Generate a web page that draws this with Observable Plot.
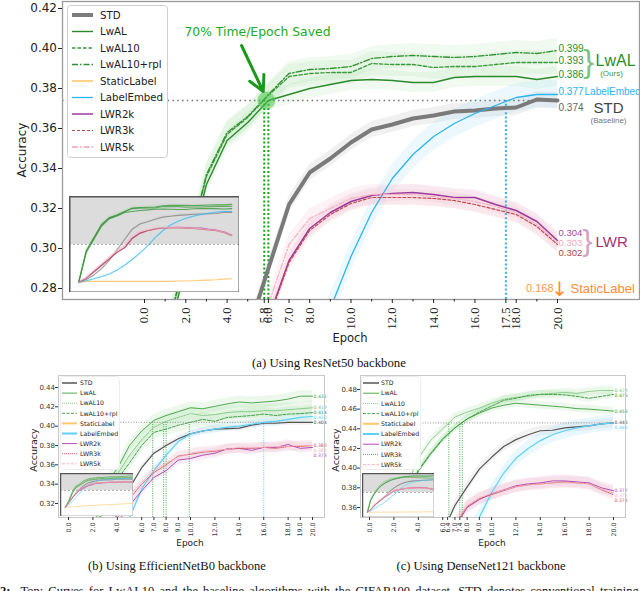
<!DOCTYPE html>
<html><head><meta charset="utf-8">
<script src="https://cdn.jsdelivr.net/npm/d3@7"></script>
<script src="https://cdn.jsdelivr.net/npm/@observablehq/plot@0.6"></script>
<style>
html,body{margin:0;padding:0;background:#fff;}
#fig{position:relative;width:640px;height:591px;overflow:hidden;background:#fff;font-family:"DejaVu Sans",sans-serif;color:#222;}
.abs{position:absolute;}
.lbl{position:absolute;transform:translate(-50%,-50%);white-space:nowrap;font-family:"DejaVu Sans",sans-serif;color:#222;}
.rot{transform:translate(-50%,-50%) rotate(-90deg);}
.cap{position:absolute;transform:translate(-50%,-50%);white-space:nowrap;font-family:"Liberation Serif","Times New Roman",serif;font-size:12.8px;color:#111;}
</style></head><body><div id="fig"></div>
<script>
const epochs = d3.range(0, 21);
const names = ["STD","LwAL","LwAL10","LwAL10+rpl","StaticLabel","LabelEmbed","LWR2k","LWR3k","LWR5k"];

// ---------- (a) ResNet50 ----------
const a_STD        = [0.157,0.166,0.180,0.200,0.225,0.258,0.290,0.322,0.338,0.345,0.353,0.3595,0.362,0.365,0.3665,0.3685,0.369,0.370,0.3705,0.3745,0.374];
const a_LwAL       = [0.157,0.250,0.291,0.332,0.354,0.363,0.374,0.377,0.380,0.382,0.384,0.3845,0.384,0.383,0.383,0.3855,0.386,0.386,0.386,0.3845,0.386];
const a_LwAL10     = [0.157,0.255,0.295,0.336,0.357,0.3655,0.3765,0.386,0.3875,0.388,0.388,0.3925,0.392,0.392,0.3905,0.391,0.391,0.392,0.393,0.393,0.393];
const a_LwAL10rpl  = [0.157,0.256,0.296,0.337,0.358,0.366,0.377,0.3875,0.3895,0.390,0.391,0.395,0.396,0.3965,0.396,0.3955,0.396,0.397,0.398,0.3975,0.399];
const a_Static     = [0.157,0.160,0.160,0.160,0.160,0.160,0.160,0.160,0.160,0.160,0.160,0.160,0.160,0.161,0.161,0.162,0.163,0.164,0.165,0.167,0.168];
const a_LabelEmbed = [0.157,0.162,0.168,0.175,0.183,0.195,0.210,0.228,0.248,0.270,0.296,0.318,0.335,0.347,0.356,0.3625,0.3675,0.3715,0.3755,0.377,0.377];
const a_LWR2k      = [0.157,0.170,0.190,0.210,0.230,0.250,0.265,0.294,0.310,0.318,0.3235,0.3265,0.3275,0.328,0.327,0.3255,0.3255,0.322,0.319,0.3135,0.304];
const a_LWR3k      = [0.157,0.170,0.190,0.210,0.230,0.250,0.264,0.293,0.309,0.317,0.3225,0.3255,0.3255,0.3255,0.325,0.324,0.322,0.3195,0.317,0.311,0.302];
const a_LWR5k      = [0.157,0.172,0.195,0.215,0.235,0.255,0.272,0.302,0.315,0.320,0.325,0.327,0.327,0.327,0.326,0.325,0.3235,0.321,0.318,0.312,0.303];
const a_spread     = [0.004,0.005,0.006,0.006,0.002,0.007,0.004,0.004,0.005];
const a_xticks = [0,2,4,5.8,6,7,8,10,12,14,16,17.5,18,20];
const a_xminor = [1,3,5,9,11,13,15,19];
const a_yticks = [0.28,0.30,0.32,0.34,0.36,0.38,0.40,0.42];
const a_target = 0.374;
const a_hits = [5.8, 6.0];
const a_blueHits = [17.5];
const a_arrow = [{x1: 4.7, y1: 0.4015, x2: 5.75, y2: 0.3785}];
const a_note = [{x: 5.47, y: 0.408, text: "70% Time/Epoch Saved"}];

// ---------- (b) EfficientNetB0 ----------
const b_STD        = [0.160,0.200,0.240,0.280,0.310,0.336,0.357,0.372,0.380,0.387,0.392,0.395,0.397,0.3975,0.398,0.401,0.403,0.403,0.404,0.404,0.404];
const b_LwAL       = [0.160,0.220,0.290,0.340,0.356,0.380,0.395,0.406,0.411,0.415,0.419,0.418,0.4205,0.423,0.425,0.424,0.425,0.426,0.428,0.431,0.431];
const b_LwAL10     = [0.160,0.210,0.280,0.330,0.350,0.370,0.386,0.399,0.405,0.409,0.413,0.411,0.412,0.414,0.415,0.415,0.416,0.416,0.417,0.418,0.419];
const b_LwAL10rpl  = [0.160,0.205,0.275,0.325,0.345,0.362,0.380,0.3935,0.397,0.401,0.404,0.407,0.405,0.409,0.410,0.411,0.4125,0.411,0.4125,0.413,0.414];
const b_Static     = [0.160,0.162,0.164,0.166,0.168,0.170,0.172,0.174,0.175,0.177,0.178,0.180,0.181,0.183,0.184,0.185,0.187,0.188,0.190,0.192,0.195];
const b_LabelEmbed = [0.160,0.180,0.210,0.240,0.270,0.305,0.335,0.354,0.370,0.384,0.392,0.395,0.397,0.399,0.400,0.402,0.404,0.405,0.407,0.409,0.410];
const b_LWR2k      = [0.160,0.200,0.240,0.270,0.300,0.318,0.333,0.347,0.354,0.365,0.3665,0.370,0.372,0.3765,0.377,0.375,0.378,0.378,0.381,0.377,0.378];
const b_LWR3k      = [0.160,0.200,0.240,0.275,0.305,0.325,0.340,0.352,0.360,0.369,0.371,0.373,0.374,0.376,0.377,0.377,0.378,0.377,0.379,0.379,0.380];
const b_LWR5k      = [0.160,0.200,0.245,0.280,0.310,0.328,0.342,0.354,0.362,0.368,0.372,0.374,0.375,0.376,0.378,0.378,0.378,0.379,0.379,0.380,0.380];
const b_spread     = [0.003,0.006,0.007,0.007,0.002,0.004,0.005,0.005,0.005];
const b_xticks = [0,2,4,6,7,8,9,10,12,14,16,18,19,20];
const b_yticks = [0.32,0.34,0.36,0.38,0.40,0.42,0.44];
const b_target = 0.404;
const b_hits = [6.9, 7.8, 8.0, 9.9];
const b_blueHits = [16.0];

// ---------- (c) DenseNet121 ----------
const c_STD        = [0.200,0.220,0.250,0.270,0.290,0.310,0.335,0.362,0.381,0.399,0.411,0.422,0.429,0.434,0.438,0.4385,0.441,0.442,0.443,0.445,0.446];
const c_LwAL       = [0.200,0.290,0.335,0.370,0.398,0.415,0.430,0.441,0.450,0.456,0.461,0.464,0.466,0.465,0.464,0.463,0.462,0.4605,0.460,0.459,0.458];
const c_LwAL10     = [0.200,0.300,0.345,0.380,0.410,0.428,0.440,0.452,0.457,0.461,0.466,0.470,0.472,0.473,0.475,0.476,0.477,0.476,0.478,0.479,0.479];
const c_LwAL10rpl  = [0.200,0.290,0.333,0.368,0.397,0.414,0.429,0.441,0.450,0.457,0.463,0.469,0.471,0.474,0.475,0.475,0.4745,0.473,0.471,0.473,0.475];
const c_Static     = [0.200,0.200,0.200,0.200,0.200,0.200,0.200,0.201,0.201,0.201,0.201,0.201,0.202,0.202,0.202,0.202,0.202,0.203,0.203,0.203,0.203];
const c_LabelEmbed = [0.200,0.210,0.225,0.240,0.255,0.270,0.290,0.310,0.330,0.350,0.375,0.395,0.410,0.420,0.428,0.434,0.438,0.441,0.443,0.445,0.446];
const c_LWR2k      = [0.200,0.220,0.245,0.270,0.290,0.310,0.325,0.340,0.360,0.368,0.374,0.378,0.382,0.384,0.385,0.387,0.387,0.386,0.385,0.380,0.377];
const c_LWR3k      = [0.200,0.220,0.245,0.270,0.290,0.310,0.327,0.342,0.361,0.369,0.373,0.377,0.381,0.383,0.384,0.385,0.386,0.385,0.384,0.378,0.373];
const c_LWR5k      = [0.200,0.220,0.250,0.275,0.295,0.315,0.330,0.345,0.362,0.370,0.374,0.378,0.381,0.383,0.384,0.385,0.385,0.385,0.384,0.379,0.375];
const c_spread     = [0.005,0.004,0.004,0.004,0.002,0.008,0.006,0.006,0.006];
const c_xticks = [0,2,4,6,6.4,7,7.4,8,9,10,12,14,16,18,20];
const c_yticks = [0.36,0.38,0.40,0.42,0.44,0.46,0.48];
const c_target = 0.446;
const c_hits = [6.5, 7.4, 7.6];
const c_blueHits = [];

// ---------- styles ----------
const styleA = {
  "STD":         {stroke:"#7a7a7a", w:4,   band:"#a0a0a0", bo:0.16, lw:4},
  "LwAL":        {stroke:"#2b8a2b", w:1.4, band:"#7ccf7c", bo:0.11},
  "LwAL10":      {stroke:"#3a993a", w:1.3, dash:"3.5,2", band:"#7ccf7c", bo:0.11},
  "LwAL10+rpl":  {stroke:"#2f902f", w:1.3, dash:"6,2,1.5,2", band:"#7ccf7c", bo:0.11},
  "StaticLabel": {stroke:"#ffb84d", w:1.3, band:"#ffd699", bo:0.2},
  "LabelEmbed":  {stroke:"#2ab4f0", w:1.3, band:"#9fdcf7", bo:0.2},
  "LWR2k":       {stroke:"#9c3a9c", w:1.5, band:"#e6b3d9", bo:0.2},
  "LWR3k":       {stroke:"#c0474f", w:1.2, dash:"3,2", band:"#f2b8c0", bo:0.2},
  "LWR5k":       {stroke:"#f4b6c4", w:1.3, dash:"6,2,1.5,2", band:"#f8d0da", bo:0.25, lw:2}
};
const styleS = {
  "STD":         {stroke:"#555555", w:1.2, band:"#a8a8a8", bo:0.15, lw:1.5},
  "LwAL":        {stroke:"#3f9f3f", w:0.9, band:"#8fd68f", bo:0.18},
  "LwAL10":      {stroke:"#79c279", w:0.9, dash:"1,1", band:"#8fd68f", bo:0.18},
  "LwAL10+rpl":  {stroke:"#3a943a", w:0.9, dash:"3,1.5", band:"#8fd68f", bo:0.18},
  "StaticLabel": {stroke:"#ffc870", w:1.2, band:"#ffe0b0", bo:0.2, lw:2},
  "LabelEmbed":  {stroke:"#5fd0f8", w:1.2, band:"#a8e4fa", bo:0.25, lw:2},
  "LWR2k":       {stroke:"#b44db4", w:1.0, band:"#e8b8e0", bo:0.25},
  "LWR3k":       {stroke:"#d0505a", w:0.9, dash:"1,1", band:"#f2c0c8", bo:0.22},
  "LWR5k":       {stroke:"#f5b0c0", w:0.9, dash:"3,1.5", band:"#f8d0da", bo:0.22}
};

// ---------- helpers ----------
const fig = document.getElementById("fig");
function place(el, left, top) { el.style.position = "absolute"; el.style.left = left + "px"; el.style.top = top + "px"; fig.appendChild(el); return el; }
function buildRows(arrays, spread) {
  return names.flatMap((name, k) => arrays[k].map((v, i) => ({name, epoch: epochs[i], v, lo: v - spread[k], hi: v + spread[k]})));
}
function seriesMarks(rows, styles, opt = {}) {
  const bands = [], lines = [];
  for (const name of names) {
    const s = styles[name];
    const d = rows.filter(r => r.name === name);
    bands.push(Plot.areaY(d, {x: "epoch", y1: "lo", y2: "hi", fill: s.band, fillOpacity: s.bo * (opt.bandScale || 1), clip: true}));
    const w = opt.wCap ? Math.min(s.w, opt.wCap) : s.w;
    lines.push(Plot.line(d, {x: "epoch", y: "v", stroke: s.stroke, strokeWidth: w, strokeDasharray: opt.noDash ? null : s.dash, strokeOpacity: opt.op || 1, clip: true}));
  }
  return {bands, lines};
}
function inset(rows, styles, cfg) {
  const m = seriesMarks(rows, styles, {wCap: cfg.wCap, op: 0.7, bandScale: 0.6, noDash: true});
  const svg = Plot.plot({
    width: cfg.w, height: cfg.h, margin: 0,
    x: {domain: cfg.X, axis: null}, y: {domain: cfg.Y, axis: null},
    style: {background: "#fff", overflow: "hidden"},
    marks: [
      Plot.rect([0], {x1: () => cfg.X[0], x2: () => cfg.X[1], y1: () => cfg.shade, y2: () => cfg.Y[1], fill: "#dcdcdc"}),
      Plot.ruleY([cfg.shade], {stroke: "#999", strokeWidth: 0.8, strokeDasharray: "2,2"}),
      ...m.bands, ...m.lines,
      Plot.frame({stroke: "#555", strokeWidth: cfg.fw})
    ]
  });
  place(svg, cfg.left, cfg.top);
}
function legend(cfg, styles) {
  const svg = d3.create("svg").attr("width", cfg.w).attr("height", cfg.h);
  svg.append("rect").attr("x", 0.5).attr("y", 0.5).attr("width", cfg.w - 1).attr("height", cfg.h - 1).attr("rx", 3)
     .attr("fill", "rgba(255,255,255,0.85)").attr("stroke", cfg.border);
  names.forEach((n, i) => {
    const s = styles[n], y = cfg.y0 + i * cfg.dy;
    svg.append("line").attr("x1", cfg.lx1).attr("x2", cfg.lx2).attr("y1", y).attr("y2", y)
       .attr("stroke", s.stroke).attr("stroke-width", (s.lw || s.w) * cfg.ws).attr("stroke-dasharray", s.dash || null);
    svg.append("text").attr("x", cfg.tx).attr("y", y).attr("dy", "0.36em").attr("font-size", cfg.fs)
       .attr("font-family", "DejaVu Sans").attr("fill", "#222").text(n);
  });
  place(svg.node(), cfg.left, cfg.top);
}
function html(cls, text, x, y, css = "") {
  const d = document.createElement("div");
  d.className = cls; d.innerHTML = text;
  d.style.cssText = `left:${x}px;top:${y}px;` + css;
  fig.appendChild(d);
}
const f3 = d3.format(".3f");
const LS = "Liberation Sans";

// ---------- panel (a) ----------
const A_X = [-3.97, 23.97], A_Y = [0.2745, 0.4235];
const rowsA = buildRows([a_STD,a_LwAL,a_LwAL10,a_LwAL10rpl,a_Static,a_LabelEmbed,a_LWR2k,a_LWR3k,a_LWR5k], a_spread);
const mA = seriesMarks(rowsA, styleA);
const last = arr => arr[arr.length - 1];
const greenCol = "#2a8f2a";
const lwalMid = d3.mean([last(a_LwAL), last(a_LwAL10rpl)]);
const lwrMid = d3.mean([last(a_LWR2k), last(a_LWR3k), last(a_LWR5k)]);
const plotA = Plot.plot({
  width: 640, height: 345, marginLeft: 62, marginRight: 1, marginTop: 1, marginBottom: 46,
  x: {domain: A_X}, y: {domain: A_Y},
  style: {fontFamily: "DejaVu Sans", background: "transparent", overflow: "visible", color: "#222"},
  marks: [
    ...mA.bands,
    Plot.ruleY([a_target], {x1: A_X[0], x2: 20, stroke: "#707070", strokeWidth: 1.5, strokeDasharray: "1.5,3.3"}),
    Plot.ruleX(a_hits, {y1: A_Y[0], y2: a_target, stroke: "#16a016", strokeWidth: 2, strokeDasharray: "2,2.2"}),
    Plot.ruleX(a_blueHits, {y1: A_Y[0], y2: a_target, stroke: "#2ab4f0", strokeWidth: 2, strokeDasharray: "2,2.2"}),
    ...mA.lines,
    Plot.dot([{x: d3.mean(a_hits), y: a_target}], {x: "x", y: "y", r: 9, fill: "#49c449", fillOpacity: 0.55}),
    Plot.arrow(a_arrow, {x1: "x1", y1: "y1", x2: "x2", y2: "y2", stroke: "#1a9a1a", strokeWidth: 3, headLength: 12, headAngle: 55}),
    Plot.text(a_note, {x: "x", y: "y", text: "text", fill: "#22aa22", fontSize: 12.4}),
    // right-end labels
    Plot.text([last(a_LwAL10rpl), last(a_LwAL10), last(a_LwAL)], {x: () => 20, y: d => d, text: d => f3(d), dx: 1, dy: -2, textAnchor: "start", fill: greenCol, fontSize: 10, fontFamily: LS}),
    Plot.text([lwalMid], {x: () => 20, y: d => d, text: () => "}", dx: 31, dy: -2, fill: "#7cc27c", fontSize: 32, fontFamily: LS}),
    Plot.text([lwalMid], {x: () => 20, y: d => d, text: () => "LwAL", dx: 38, dy: -3, textAnchor: "start", fill: greenCol, fontSize: 16, fontFamily: LS}),
    Plot.text([lwalMid], {x: () => 20, y: d => d, text: () => "(Ours)", dx: 54, dy: 10, fill: "#3a9a3a", fontSize: 8, fontFamily: LS}),
    Plot.text([last(a_LabelEmbed)], {x: () => 20, y: d => d, text: d => f3(d), dx: 1, dy: -3, textAnchor: "start", fill: "#2ab4f0", fontSize: 10, fontFamily: LS}),
    Plot.text([last(a_LabelEmbed)], {x: () => 20, y: d => d, text: () => "LabelEmbed", dx: 27, dy: -3, textAnchor: "start", fill: "#2ab4f0", fontSize: 10, fontFamily: LS}),
    Plot.text([last(a_STD)], {x: () => 20, y: d => d, text: d => f3(d), dx: 1, dy: 7, textAnchor: "start", fill: "#666", fontSize: 10, fontFamily: LS}),
    Plot.text([last(a_STD)], {x: () => 20, y: d => d, text: () => "STD", dx: 51, dy: 8, fill: "#444", fontSize: 15, fontFamily: LS}),
    Plot.text([last(a_STD)], {x: () => 20, y: d => d, text: () => "(Baseline)", dx: 51, dy: 20, fill: "#777", fontSize: 8, fontFamily: LS}),
    Plot.text([lwrMid], {x: () => 20, y: d => d, text: () => f3(last(a_LWR2k)), dx: 1, dy: -10, textAnchor: "start", fill: "#9c4d9c", fontSize: 9.5, fontFamily: LS}),
    Plot.text([lwrMid], {x: () => 20, y: d => d, text: () => f3(last(a_LWR5k)), dx: 1, dy: 0, textAnchor: "start", fill: "#f2a8b8", fontSize: 9.5, fontFamily: LS}),
    Plot.text([lwrMid], {x: () => 20, y: d => d, text: () => f3(last(a_LWR3k)), dx: 1, dy: 10, textAnchor: "start", fill: "#a84848", fontSize: 9.5, fontFamily: LS}),
    Plot.text([lwrMid], {x: () => 20, y: d => d, text: () => "}", dx: 30, dy: -1, fill: "#d8a0c0", fontSize: 30, fontFamily: LS}),
    Plot.text([lwrMid], {x: () => 20, y: d => d, text: () => "LWR", dx: 38, textAnchor: "start", fill: "#a3336f", fontSize: 15, fontFamily: LS}),
    Plot.text([A_Y[0]], {x: () => 20, y: d => d, text: () => f3(last(a_Static)), dx: -4, dy: -11, textAnchor: "end", fill: "#ff9a40", fontSize: 11, fontFamily: LS}),
    Plot.text([A_Y[0]], {x: () => 20, y: d => d, text: () => "↓", dx: 2, dy: -10, fill: "#ff8c33", fontSize: 20}),
    Plot.text([A_Y[0]], {x: () => 20, y: d => d, text: () => "StaticLabel", dx: 13, dy: -11, textAnchor: "start", fill: "#ff8c33", fontSize: 13, fontFamily: LS}),
    Plot.frame({stroke: "#9a9a9a", strokeWidth: 1.3}),
    Plot.axisY({ticks: a_yticks, tickFormat: d3.format(".2f"), fontSize: 12, tickSize: 4, tickPadding: 1.5, label: null}),
    Plot.axisX({ticks: a_xticks, tickFormat: d => d.toFixed(1), tickRotate: -90, fontSize: 12.5, fontFamily: "Liberation Serif", tickSize: 4, tickPadding: 4, label: null}),
    Plot.axisX({ticks: a_xminor, tickFormat: () => "", tickSize: 2.5, label: null})
  ]
});
place(plotA, 0, 0);
inset(rowsA, styleA, {left: 69, top: 196, w: 170, h: 96, X: [-1.2, 21], Y: [0.1255, 0.4235], shade: A_Y[0], wCap: 1.1, fw: 2});
legend({left: 67, top: 5, w: 101, h: 153, y0: 10, dy: 16.5, lx1: 5, lx2: 26, tx: 33, fs: 10.2, ws: 1, border: "#d0d0d0"}, styleA);
html("lbl rot", "Accuracy", 22, 150, "font-size:12px;");
html("lbl", "Epoch", 350, 338, "font-size:11.5px;");
html("cap", "(a) Using ResNet50 backbone", 329, 363);

// ---------- small panels ----------
function small(p) {
  const rows = buildRows(p.arrays, p.spread);
  const m = seriesMarks(rows, styleS);
  // end-value labels, nudged apart vertically so they stay legible
  const pxPerUnit = (p.h - p.mT - p.mB) / (p.Y[1] - p.Y[0]);
  const gap = 5 / pxPerUnit;
  const labs = names.filter(n => n !== "StaticLabel").map(n => ({n, v: last(p.arrays[names.indexOf(n)])}))
    .sort((a, b) => b.v - a.v);
  labs.forEach((d, i) => { d.ly = i === 0 ? d.v : Math.min(d.v, labs[i - 1].ly - gap); });
  const svg = Plot.plot({
    width: p.w, height: p.h, marginLeft: p.mL, marginRight: p.mR, marginTop: p.mT, marginBottom: p.mB,
    x: {domain: p.X}, y: {domain: p.Y},
    style: {fontFamily: "DejaVu Sans", background: "transparent", overflow: "visible", color: "#333"},
    marks: [
      ...m.bands,
      Plot.ruleY([p.target], {x1: p.X[0], x2: 20, stroke: "#777", strokeWidth: 0.8, strokeDasharray: "1,1.6"}),
      Plot.ruleX(p.hits, {y1: p.Y[0], y2: p.target, stroke: "#3aa03a", strokeWidth: 0.9, strokeDasharray: "1,1.3"}),
      Plot.ruleX(p.blueHits, {y1: p.Y[0], y2: p.target, stroke: "#4cc4f4", strokeWidth: 0.9, strokeDasharray: "1,1.3"}),
      ...m.lines,
      Plot.text(labs, {x: () => 20, y: "ly", text: d => f3(d.v), dx: 1, textAnchor: "start", fill: d => styleS[d.n].stroke, fontSize: 4.6}),
      Plot.frame({stroke: "#c8c8c8", strokeWidth: 1}),
      Plot.axisY({ticks: p.yticks, tickFormat: d3.format(".2f"), fontSize: 7, tickSize: 3, tickPadding: 0.5, label: null}),
      Plot.axisX({ticks: p.xticks, tickFormat: d => d.toFixed(1), tickRotate: -90, fontSize: 6.3, tickSize: 3, tickPadding: 2, label: null})
    ]
  });
  place(svg, p.left, p.top);
  inset(rows, styleS, p.inset);
  legend(p.legend, styleS);
}
small({
  left: 0, top: 370, w: 330, h: 190, mL: 58, mR: 6, mT: 5, mB: 43,
  X: [-0.82, 20.98], Y: [0.3055, 0.4524],
  arrays: [b_STD,b_LwAL,b_LwAL10,b_LwAL10rpl,b_Static,b_LabelEmbed,b_LWR2k,b_LWR3k,b_LWR5k], spread: b_spread,
  xticks: b_xticks, yticks: b_yticks, target: b_target, hits: b_hits, blueHits: b_blueHits,
  inset: {left: 60, top: 473, w: 73, h: 43, X: [-1.5, 20.5], Y: [0.08, 0.4524], shade: 0.3055, wCap: 0.9, fw: 1.5},
  legend: {left: 60, top: 376, w: 60, h: 94, y0: 7, dy: 10.1, lx1: 2, lx2: 17, tx: 20, fs: 6.2, ws: 1, border: "#ececec"}
});
small({
  left: 330, top: 370, w: 310, h: 190, mL: 30, mR: 15, mT: 5, mB: 43,
  X: [-0.74, 20.98], Y: [0.3498, 0.4942],
  arrays: [c_STD,c_LwAL,c_LwAL10,c_LwAL10rpl,c_Static,c_LabelEmbed,c_LWR2k,c_LWR3k,c_LWR5k], spread: c_spread,
  xticks: c_xticks, yticks: c_yticks, target: c_target, hits: c_hits, blueHits: c_blueHits,
  inset: {left: 362, top: 473, w: 72, h: 44, X: [-1.5, 20.5], Y: [0.16, 0.4942], shade: 0.3498, wCap: 0.9, fw: 1.5},
  legend: {left: 361, top: 376, w: 60, h: 94, y0: 7, dy: 10.2, lx1: 2, lx2: 18, tx: 20, fs: 6.2, ws: 1, border: "#ececec"}
});
html("lbl rot", "Accuracy", 33, 450, "font-size:9.5px;");
html("lbl rot", "Accuracy", 335, 450, "font-size:9.5px;");
html("lbl", "Epoch", 190, 543, "font-size:9px;");
html("lbl", "Epoch", 492, 543, "font-size:9px;");
html("cap", "(b) Using EfficientNetB0 backbone", 177, 566, "font-size:12.5px;");
html("cap", "(c) Using DenseNet121 backbone", 481, 566, "font-size:12.5px;");
html("abs", "<b>2:</b>&nbsp; Top: Curves for LwAL10 and the baseline algorithms with the CIFAR100 dataset. STD denotes conventional training", 0, 584,
     "font-family:'Liberation Serif',serif;font-size:12.5px;line-height:14px;white-space:nowrap;word-spacing:2px;color:#111;");
</script></body></html>
